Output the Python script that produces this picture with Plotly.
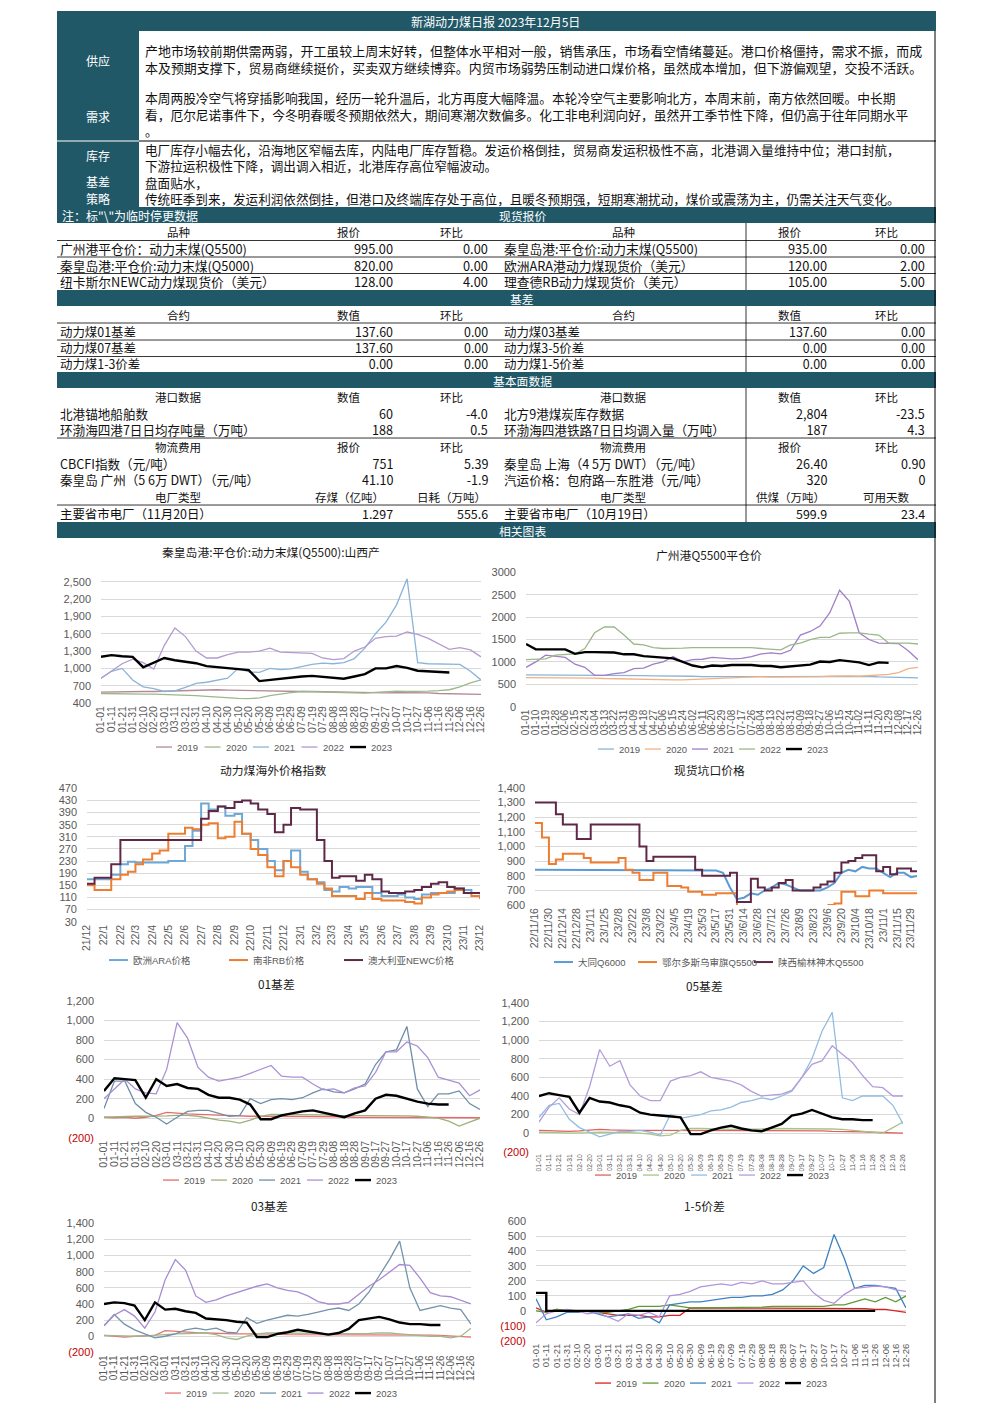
import pandas as pd
import plotly.graph_objects as go

# page geometry: the snapshot frames the page with a ~6px border, so
# positions read off the reference are mapped back onto the page
W, H = 992, 1403
PAD, SX, SY = 6.0, 0.9879, 0.9914
TEAL = "#215868"
CJK = "Noto Sans CJK SC"
LAT = "Liberation Sans, Noto Sans CJK SC"
GREY = "#595959"

# ---------------- text / table content ----------------
REPORT_TITLE = "新湖动力煤日报 2023年12月5日"
VIEW_LABELS = ["供应", "需求", "库存", "基差", "策略"]
SUPPLY_LINES = [
    "产地市场较前期供需两弱，开工虽较上周末好转，但整体水平相对一般，销售承压，市场看空情绪蔓延。港口价格僵持，需求不振，而成",
    "本及预期支撑下，贸易商继续挺价，买卖双方继续博弈。内贸市场弱势压制动进口煤价格，虽然成本增加，但下游偏观望，交投不活跃。",
]
DEMAND_LINES = [
    "本周两股冷空气将穿插影响我国，经历一轮升温后，北方再度大幅降温。本轮冷空气主要影响北方，本周末前，南方依然回暖。中长期",
    "看，厄尔尼诺事件下，今冬明春暖冬预期依然大，期间寒潮次数偏多。化工非电利润向好，虽然开工季节性下降，但仍高于往年同期水平",
    "。",
]
STOCK_LINES = [
    "电厂库存小幅去化，沿海地区窄幅去库，内陆电厂库存暂稳。发运价格倒挂，贸易商发运积极性不高，北港调入量维持中位；港口封航，",
    "下游拉运积极性下降，调出调入相近，北港库存高位窄幅波动。",
    "盘面贴水，",
    "传统旺季到来，发运利润依然倒挂，但港口及终端库存处于高位，且暖冬预期强，短期寒潮扰动，煤价或震荡为主，仍需关注天气变化。",
]
NOTE_TEXT = '注：标"\\"为临时停更数据'
SECTION_NAMES = ["现货报价", "基差", "基本面数据", "相关图表"]

SPOT_HEAD = ["品种", "报价", "环比"]
SPOT_L = [["广州港平仓价：动力末煤(Q5500)", "995.00", "0.00"],
          ["秦皇岛港:平仓价:动力末煤(Q5000)", "820.00", "0.00"],
          ["纽卡斯尔NEWC动力煤现货价（美元）", "128.00", "4.00"]]
SPOT_R = [["秦皇岛港:平仓价:动力末煤(Q5500)", "935.00", "0.00"],
          ["欧洲ARA港动力煤现货价（美元）", "120.00", "2.00"],
          ["理查德RB动力煤现货价（美元）", "105.00", "5.00"]]
BASIS_HEAD = ["合约", "数值", "环比"]
BASIS_L = [["动力煤01基差", "137.60", "0.00"],
           ["动力煤07基差", "137.60", "0.00"],
           ["动力煤1-3价差", "0.00", "0.00"]]
BASIS_R = [["动力煤03基差", "137.60", "0.00"],
           ["动力煤3-5价差", "0.00", "0.00"],
           ["动力煤1-5价差", "0.00", "0.00"]]
PORT_HEAD = ["港口数据", "数值", "环比"]
PORT_L = [["北港锚地船舶数", "60", "-4.0"],
          ["环渤海四港7日日均存吨量（万吨）", "188", "0.5"]]
PORT_R = [["北方9港煤炭库存数据", "2,804", "-23.5"],
          ["环渤海四港铁路7日日均调入量（万吨）", "187", "4.3"]]
FREIGHT_HEAD = ["物流费用", "报价", "环比"]
FREIGHT_L = [["CBCFI指数（元/吨）", "751", "5.39"],
             ["秦皇岛 广州（5 6万 DWT）（元/吨）", "41.10", "-1.9"]]
FREIGHT_R = [["秦皇岛 上海（4 5万 DWT）（元/吨）", "26.40", "0.90"],
             ["汽运价格：包府路—东胜港（元/吨）", "320", "0"]]
PLANT_HEAD_L = ["电厂类型", "存煤（亿吨）", "日耗（万吨）"]
PLANT_HEAD_R = ["电厂类型", "供煤（万吨）", "可用天数"]
PLANT_L = [["主要省市电厂（11月20日）", "1.297", "555.6"]]
PLANT_R = [["主要省市电厂（10月19日）", "599.9", "23.4"]]

# ---------------- chart data ----------------
DAY10 = pd.date_range("2020-01-01", periods=37, freq="10D").strftime("%m-%d").tolist()
DAY9 = pd.date_range("2020-01-01", periods=41, freq="9D").strftime("%m-%d").tolist()
YEARS = ["2019", "2020", "2021", "2022", "2023"]

QHD_2019 = [590, 595, 600, 600, 600, 600, 605, 610, 615, 620, 630, 630, 625, 620, 620, 620, 615, 610, 605,
            600, 600, 595, 590, 585, 580, 575, 570, 575, 580, 580, 580, 575, 565, 560, 555, 550, 550]
QHD_2020 = [565, 560, 560, 555, 555, 555, 550, 545, 540, 530, 515, 500, 490, 480, 475, 490, 530, 560, 580,
            600, 595, 585, 575, 570, 565, 570, 585, 600, 605, 600, 600, 605, 615, 630, 680, 750, 800]
QHD_2021 = [830, 950, 1000, 800, 680, 650, 600, 610, 670, 740, 760, 800, 830, 1000, 940, 930, 1000, 980, 990,
            1030, 1070, 1090, 1080, 1100, 1170, 1350, 1600, 1800, 2100, 2550, 1100, 1080, 1080, 1080, 1070, 950, 800]
QHD_2022 = [830, 950, 1080, 1160, 1100, 990, 1400, 1700, 1550, 1300, 1180, 1180, 1240, 1280, 1280, 1300, 1350,
            1280, 1270, 1260, 1260, 1180, 1150, 1170, 1300, 1370, 1520, 1550, 1560, 1630, 1590, 1520, 1430,
            1330, 1360, 1320, 1200]
QHD_2023 = [1200, 1230, 1210, 1200, 1020, 1100, 1180, 1140, 1120, 1090, 1040, 1020, 1010, 990, 970, 780, 800,
            820, 850, 860, 870, 850, 830, 820, 860, 900, 1000, 1000, 1040, 1010, 960, 950, 950, 930,
            None, None, None]

GZ_2019 = [710, 710, 710, 710, 710, 705, 700, 700, 700, 700, 700, 700, 695, 690, 690, 690, 690, 680, 670, 670,
           670, 670, 670, 670, 670, 670, 670, 670, 670, 680, 680, 680, 685, 685, 680, 675, 665, 660, 655, 650, 645]
GZ_2020 = [650, 650, 650, 650, 650, 650, 645, 640, 630, 625, 620, 610, 600, 600, 600, 600, 600, 610, 620, 630,
           640, 650, 660, 670, 670, 660, 660, 660, 660, 660, 670, 680, 690, 690, 680, 690, 700, 720, 760, 850, 880]
GZ_2021 = [880, 1000, 1150, 1120, 1100, 950, 880, 700, 700, 740, 760, 850, 860, 950, 1000, 1120, 1000, 1050,
           1060, 1100, 1080, 1070, 1080, 1120, 1180, 1200, 1180, 1260, 1600, 1680, 1800, 2100, 2600, 2350,
           1650, 1500, 1420, 1420, 1410, 1250, 1050]
GZ_2022 = [1050, 1060, 1070, 1150, 1170, 1180, 1300, 1650, 1780, 1780, 1600, 1400, 1380, 1320, 1300, 1300,
           1310, 1320, 1320, 1320, 1320, 1320, 1320, 1320, 1300, 1290, 1270, 1380, 1420, 1500, 1550, 1550,
           1640, 1650, 1650, 1620, 1600, 1420, 1420, 1420, 1400]
GZ_2023 = [1400, 1280, 1280, 1280, 1280, 1180, 1220, 1220, 1220, 1210, 1170, 1170, 1130, 1110, 1100, 1080,
           1000, 920, 880, 920, 910, 930, 930, 930, 910, 910, 880, 900, 920, 940, 1010, 1000, 1040, 1010, 990,
           930, 990, 980, None, None, None]

OVERSEAS_DATES = pd.date_range("2021-12-01", "2023-12-01", freq="SMS")
ARA = [170, 170, 170, 185, 220, 228, 225, 225, 225, 225, 230, 230, 280, 330, 420, 400, 410, 380, 385, 320,
       300, 270, 230, 200, 230, 265, 195, 170, 160, 135, 130, 145, 140, 145, 145, 125, 115, 115, 120, 110,
       105, 120, 125, 125, 125, 140, 135, 125, 120]
RB = [150, 135, 135, 170, 185, 195, 220, 235, 255, 265, 320, 320, 340, 335, 350, 355, 305, 310, 360, 320,
      270, 250, 210, 180, 230, 210, 185, 170, 155, 140, 115, 115, 115, 105, 125, 105, 100, 100, 100, 95,
      90, 110, 120, 125, 130, 135, 125, 115, 105]
NEWC = [155, 175, 175, 220, 300, 300, 300, 300, 300, 300, 300, 300, 300, 300, 370, 395, 410, 405, 425, 430,
        420, 400, 385, 325, 350, 405, 400, 400, 300, 230, 175, 180, 180, 165, 185, 170, 130, 125, 125, 130,
        135, 145, 155, 160, 145, 140, 125, 125, 128]

PIT_DATES = pd.date_range("2022-11-16", periods=56, freq="7D")
DATONG = [840, 840, 840, 840, 840, 840, 840, 840, 840, 840, 840, 840, 840, 840, 840, 840, 840, 840, 840, 840,
          840, 840, 840, 840, 840, 840, 835, 820, 720, 640, 650, 680, 670, 700, 720, 750, 740, 720, 700, 700,
          700, 700, 720, 750, 820, 840, 830, 860, 850, 850, 820, 790, 820, 820, 790, 800]
ORDOS = [1160, 1060, 880, 910, 950, 950, 950, 920, 890, 890, 890, 890, 920, 840, 820, 770, 770, 820, 820, 730,
         730, 720, 690, 690, 670, 670, 680, 680, 680, 600, None, None, None, None, None, None, None, None,
         None, None, None, None, 600, 610, 690, 690, 660, 660, 700, 700, 680, 680, 680, 680, 680, 650]
SHAANXI = [1300, 1300, 1300, 1220, 1150, 1150, 1050, 1050, 1150, 1150, 1150, 1150, 1150, 1150, 1150, 1000,
           900, 930, 930, 930, 930, 930, 930, 840, 800, 800, 800, 800, 820, 620, 620, 780, 720, 700, 720,
           750, 770, 700, 700, 700, 720, 740, 760, 820, 890, 900, 920, 940, 940, 830, 860, 810, 850, 850,
           830, 830]

B01_2019 = [10, 5, 10, 0, 10, 30, 60, 50, 45, 40, 35, 30, 25, 20, 20, 20, 20, 20, 20, 20, 20, 15, 15, 15, 10,
            10, 10, 10, 10, 10, 10, 10, 10, 10, 5, 5, 5]
B01_2020 = [10, 15, 20, 20, 20, 20, 25, 30, 30, 20, 0, -20, -30, -50, -20, 20, 40, 40, 40, 40, 40, 35, 30, 30,
            30, 30, 30, 30, 30, 25, 20, 10, 0, -30, -80, -40, 0]
B01_2021 = [100, 380, 380, 150, 60, 10, -60, 10, 70, 80, 80, 50, 20, 30, 200, 150, 190, 200, 190, 210, 260,
            300, 270, 260, 300, 350, 550, 680, 700, 940, 300, 120, 250, 250, 280, 150, 90]
B01_2022 = [200, 300, 400, 300, 260, 250, 500, 980, 820, 520, 420, 380, 400, 420, 460, 500, 540, 430, 420, 420,
            350, 290, 300, 260, 310, 330, 470, 680, 680, 780, 740, 620, 420, 390, 360, 230, 290]
B01_2023 = [280, 410, 400, 390, 210, 400, 330, 350, 310, 300, 240, 210, 210, 190, 140, -10, -10, 30, 50, 70,
            80, 55, 30, 10, 50, 80, 200, 240, 230, 200, 170, 150, 140, 140, None, None, None]

B05_2019 = [30, 25, 20, 20, 25, 30, 40, 35, 30, 30, 30, 30, 30, 30, 30, 30, 30, 30, 30, 30, 30, 30, 30, 30,
            30, 30, 25, 25, 25, 20, 20, 15, 15, 10, 5, 0, 0]
B05_2020 = [10, 10, 5, 0, 0, 5, 10, 10, 5, 5, 0, -10, -30, -20, 30, 50, 50, 50, 45, 40, 40, 40, 45, 50, 50,
            50, 50, 50, 50, 45, 40, 30, 20, 10, 0, 60, 120]
B05_2021 = [170, 300, 320, 150, 60, 10, -40, -10, 20, 20, 30, 10, -20, 200, 160, 180, 200, 240, 250, 280, 330,
            350, 380, 360, 400, 450, 600, 800, 1100, 1300, 380, 350, 400, 400, 400, 300, 100]
B05_2022 = [120, 280, 380, 260, 200, 500, 900, 720, 780, 520, 400, 350, 350, 560, 600, 620, 660, 600, 580, 560,
            520, 450, 400, 410, 420, 460, 600, 740, 780, 940, 850, 760, 620, 500, 490, 400, 400]
B05_2023 = [400, 430, 410, 390, 220, 380, 340, 330, 300, 280, 220, 200, 190, 180, 170, -10, -10, 30, 60, 80,
            50, 30, 20, 60, 100, 190, 210, 250, 210, 170, 150, 150, 140, 140, None, None, None]

B03_2019 = [10, 0, -10, 0, 5, 10, 70, 60, 50, 45, 40, 35, 30, 30, 30, 30, 25, 25, 20, 20, 20, 20, 20, 20, 20,
            20, 20, 20, 20, 20, 20, 15, 15, 10, 5, 0, -10]
B03_2020 = [10, 5, 5, 0, 5, 10, 20, 30, 35, 40, 40, 20, -20, -40, 0, 30, 40, 40, 40, 40, 40, 35, 30, 30, 30,
            30, 35, 40, 40, 30, 20, 10, 0, 0, -20, 0, 100]
B03_2021 = [130, 270, 150, 80, 30, -20, 0, 30, 80, 100, 80, 100, 50, 40, 230, 160, 200, 230, 260, 250, 270,
            300, 330, 350, 320, 400, 550, 750, 950, 1180, 600, 320, 350, 380, 350, 330, 150]
B03_2022 = [130, 260, 330, 250, 100, 300, 700, 950, 820, 500, 420, 450, 500, 540, 580, 620, 650, 600, 570, 550,
            500, 430, 400, 400, 420, 520, 620, 700, 790, 890, 880, 720, 540, 500, 490, 440, 400]
B03_2023 = [400, 420, 410, 380, 200, 420, 330, 340, 310, 290, 220, 210, 200, 180, 170, -10, -10, 30, 50, 80,
            60, 40, 20, 40, 90, 200, 220, 240, 210, 170, 150, 150, 140, 140, None, None, None]

S15_2019 = [20, -10, 10, 0, -10, 0, -10, -20, -30, -30, -30, -40, -40, -30, -30, 20, 20, 15, 15, 15, 15, 15,
            15, 15, 15, 15, 15, 15, 15, 15, 15, 15, 15, 10, 10, 0, -10]
S15_2020 = [0, -10, 10, 5, 0, 0, -10, -10, 0, 10, 30, 30, 30, 40, 30, 20, 20, 20, 20, 20, 25, 25, 25, 30, 30,
            30, 30, 30, 30, 40, 40, 60, 80, 60, 90, 60, 100]
S15_2021 = [80, -60, -40, -10, -10, 0, -20, -40, -30, -20, -50, -40, -80, 40, 50, 60, 60, 70, 80, 90, 90, 100,
            100, 110, 140, 200, 300, 250, 290, 510, 350, 150, 170, 170, 160, 150, 20]
S15_2022 = [-80, -20, 0, 10, 0, -20, -10, -40, -70, -20, -30, -10, -40, 100, 110, 130, 160, 170, 180, 170, 190,
            180, 200, 180, 180, 190, 200, 120, 70, 50, 110, 150, 160, 165, 160, 140, 130]
S15_2023 = [120, 0, 0, 0, 0, 0, 0, 0, 0, 0, 0, 0, 0, 0, 0, 0, 0, 0, 0, 0, 0, 0, 0, 0, 0, 0, 0, 0, 0, 0, 0, 0,
            0, 0, None, None, None]

B01_TICKS = [-200, 0, 200, 400, 600, 800, 1000, 1200]
B05_TICKS = [-200, 0, 200, 400, 600, 800, 1000, 1200, 1400]
S15_TICKS = [-200, -100, 0, 100, 200, 300, 400, 500, 600]

# ---------------- drawing helpers ----------------
fig = go.Figure()
shapes, annos, axes = [], [], {}


def fx(x):
    return (x - PAD) / SX / W


def fy(y):
    return 1 - (y - PAD) / SY / H


def box(x0, y0, x1, y1, color):
    shapes.append(dict(type="rect", xref="paper", yref="paper", x0=fx(x0), x1=fx(x1),
                       y0=fy(y1), y1=fy(y0), fillcolor=color, line_width=0, layer="below"))


def seg(x0, y0, x1, y1, color="#000000", width=0.8):
    shapes.append(dict(type="line", xref="paper", yref="paper", x0=fx(x0), x1=fx(x1),
                       y0=fy(y0), y1=fy(y1), line=dict(color=color, width=width)))


def label(x, y, s, size=12, color="#111111", anchor="left", family=CJK):
    annos.append(dict(xref="paper", yref="paper", x=fx(x), y=fy(y), text=s, showarrow=False,
                      xanchor=anchor, yanchor="middle", align=anchor if anchor != "center" else "center",
                      borderpad=0, font=dict(family=family, size=size, color=color)))


def block(x, y_first, step, lines, anchor="left", color="#111111"):
    # one multi-line annotation; plotly spaces lines at 1.3 x font size
    size = step / 1.3 * SY
    y_mid = y_first + step * (len(lines) - 1) / 2
    label(x, y_mid, "<br>".join(lines), size, color, anchor)


def table_head(cells, y, side):
    xs = (177, 348, 450) if side == "L" else (622, 789, 885)
    for c, x in zip(cells, xs):
        label(x, y, c, 11.5, anchor="center")


def table_rows(rows, y_first, step, side):
    lx, ax, bx = (58, 393, 488) if side == "L" else (502, 827, 925)
    block(lx, y_first, step, [r[0] for r in rows], "left")
    block(ax, y_first, step, [r[1] for r in rows], "right")
    block(bx, y_first, step, [r[2] for r in rows], "right")


def paren_ticks(vals):
    out = []
    for v in vals:
        if v < 0:
            out.append('<span style="color:#c00000">(%d)</span>' % abs(v))
        else:
            out.append(f"{v:,}")
    return out


def chart(k, area, yrange, yextra, xextra, title, title_xy, series, legend_x, legend_y,
          leg_len=16, xfont=10.5):
    sfx = "" if k == 1 else str(k)
    x0, x1, ytop, ybot = area
    for name, xs, ys, color, width, shape in series:
        fig.add_trace(go.Scatter(x=xs, y=ys, name=name, mode="lines", xaxis="x" + sfx, yaxis="y" + sfx,
                                 line=dict(color=color, width=width, shape=shape), connectgaps=False,
                                 showlegend=False))
    axes["xaxis" + sfx] = dict(domain=[fx(x0), fx(x1)], anchor="y" + sfx, showgrid=False, zeroline=False,
                               showline=False, ticks="", tickangle=-90,
                               tickfont=dict(family=LAT, size=xfont, color=GREY), **xextra)
    axes["yaxis" + sfx] = dict(domain=[fy(ybot), fy(ytop)], anchor="x" + sfx, range=yrange, showgrid=True,
                               gridcolor="#d9d9d9", gridwidth=1, zeroline=False, showline=False, ticks="",
                               ticklabelstandoff=9, tickfont=dict(family=LAT, size=11, color=GREY), **yextra)
    label(title_xy[0], title_xy[1], title, 11.8, "#1a1a1a", "center")
    for (name, _, _, color, width, _), lx in zip(series, legend_x):
        seg(lx, legend_y, lx + leg_len, legend_y, color, width)
        label(lx + leg_len + 4, legend_y, name, 9.5, GREY, "left", LAT)


def years(xs, data, colors):
    out = []
    for name, ys, c in zip(YEARS, data, colors):
        out.append((name, xs, ys, c, 2.4 if name == "2023" else 1.3, "linear"))
    return out


# ---------------- report header & text block ----------------
box(56, 11, 935, 31, TEAL)
label(494, 21.5, REPORT_TITLE, 12, "white", "center")
box(56, 31, 138, 207, TEAL)
seg(56, 141, 138, 141, "#ffffff", 1)
seg(138, 141, 935, 141, "#000000", 1)
seg(934, 31, 934, 1403, "#000000", 1)
for lab, y in zip(VIEW_LABELS, [60, 116, 155, 181, 198]):
    label(97, y, lab, 12, "white", "center")
block(143, 50, 17, SUPPLY_LINES)
block(143, 97, 16.7, DEMAND_LINES)
block(143, 149, 16.5, STOCK_LINES)

# ---------------- section bars ----------------
for (y0, y1) in [(207, 223), (290, 306), (372, 388), (522, 538)]:
    box(56, y0, 935, y1, TEAL)
label(60, 215.5, NOTE_TEXT, 12, "white")
for name, y in zip(SECTION_NAMES, [215.5, 298, 380.5, 530]):
    label(521, y, name, 11.8, "white", "center")

# ---------------- tables ----------------
for y in [240.5, 257, 273.5, 323, 340, 356.5, 438, 505]:
    seg(56, y, 935, y, "#000000", 0.8)
for (y0, y1) in [(223, 290), (306, 372), (388, 522)]:
    seg(745, y0, 745, y1, "#000000", 0.8)

table_head(SPOT_HEAD, 231.5, "L")
table_head(SPOT_HEAD, 231.5, "R")
table_rows(SPOT_L, 248.5, 16.75, "L")
table_rows(SPOT_R, 248.5, 16.75, "R")
table_head(BASIS_HEAD, 314.5, "L")
table_head(BASIS_HEAD, 314.5, "R")
table_rows(BASIS_L, 331.5, 16.3, "L")
table_rows(BASIS_R, 331.5, 16.3, "R")
table_head(PORT_HEAD, 396.5, "L")
table_head(PORT_HEAD, 396.5, "R")
table_rows(PORT_L, 413.5, 16.5, "L")
table_rows(PORT_R, 413.5, 16.5, "R")
table_head(FREIGHT_HEAD, 446.8, "L")
table_head(FREIGHT_HEAD, 446.8, "R")
table_rows(FREIGHT_L, 463.5, 16.5, "L")
table_rows(FREIGHT_R, 463.5, 16.5, "R")
table_head(PLANT_HEAD_L, 497, "L")
table_head(PLANT_HEAD_R, 497, "R")
table_rows(PLANT_L, 513.5, 16.3, "L")
table_rows(PLANT_R, 513.5, 16.3, "R")

# ---------------- charts ----------------
cat10 = dict(type="category", range=[0, 36], tickmode="array", tickvals=DAY10, ticktext=DAY10)
cat9 = dict(type="category", range=[0, 40], tickmode="array", tickvals=DAY9, ticktext=DAY9)

chart(1, (100, 480, 574.8, 703), [400, 2620], dict(tick0=400, dtick=300, tickformat=","), cat10,
      "秦皇岛港:平仓价:动力末煤(Q5500):山西产", (270, 551),
      years(DAY10, [QHD_2019, QHD_2020, QHD_2021, QHD_2022, QHD_2023],
            ["#b48a94", "#9cb88a", "#8ab4d8", "#b39ad0", "#000000"]),
      [155 + 48.5 * i for i in range(5)], 747)

chart(2, (525, 917, 572.3, 706.7), [0, 3000], dict(tick0=0, dtick=500, tickformat="d"), cat9,
      "广州港Q5500平仓价", (708, 554),
      years(DAY9, [GZ_2019, GZ_2020, GZ_2021, GZ_2022, GZ_2023],
            ["#8ab4d8", "#f2b183", "#9f7fc6", "#9cb88a", "#000000"]),
      [597 + 47 * i for i in range(5)], 749, xfont=10)

chart(3, (86, 479, 788.3, 921.7), [30, 470], dict(tick0=30, dtick=40),
      dict(type="date", range=["2021-12-01", "2023-12-01"], tick0="2021-12-01", dtick="M1",
           tickformat="%y/%-m"),
      "动力煤海外价格指数", (272, 769),
      [("欧洲ARA价格", OVERSEAS_DATES, ARA, "#6fa8d6", 2, "hv"),
       ("南非RB价格", OVERSEAS_DATES, RB, "#ed7d31", 2, "hv"),
       ("澳大利亚NEWC价格", OVERSEAS_DATES, NEWC, "#5f2846", 2, "hv")],
      [108, 228, 343], 960, leg_len=19)

chart(4, (534, 916, 787.7, 905), [600, 1400], dict(tick0=600, dtick=100, tickformat=","),
      dict(type="date", range=["2022-11-16", "2023-12-05"], tick0="2022-11-16", dtick=14 * 86400000,
           tickformat="%y/%-m/%-d"),
      "现货坑口价格", (708, 769),
      [("大同Q6000", PIT_DATES, DATONG, "#5b9bd5", 2, "linear"),
       ("鄂尔多斯乌审旗Q5500", PIT_DATES, ORDOS, "#ed7d31", 2, "hv"),
       ("陕西榆林神木Q5500", PIT_DATES, SHAANXI, "#5f2846", 2, "hv")],
      [553, 637, 753], 962, leg_len=19)

chart(5, (103, 479, 1001, 1137.7), [-200, 1200],
      dict(tickmode="array", tickvals=B01_TICKS, ticktext=paren_ticks(B01_TICKS)), cat10,
      "01基差", (275, 983),
      years(DAY10, [B01_2019, B01_2020, B01_2021, B01_2022, B01_2023],
            ["#e46c6c", "#9cb07c", "#6f8ea8", "#a992d4", "#000000"]),
      [162 + 48 * i for i in range(5)], 1180)

chart(6, (538, 902, 1003, 1151.7), [-200, 1400],
      dict(tickmode="array", tickvals=B05_TICKS, ticktext=paren_ticks(B05_TICKS)), cat10,
      "05基差", (703, 985),
      years(DAY10, [B05_2019, B05_2020, B05_2021, B05_2022, B05_2023],
            ["#e06060", "#a8c488", "#92bde0", "#b49ddb", "#000000"]),
      [594 + 48 * i for i in range(5)], 1175, xfont=6.8)

chart(7, (103, 470, 1223.3, 1352.3), [-200, 1400],
      dict(tickmode="array", tickvals=B05_TICKS, ticktext=paren_ticks(B05_TICKS)), cat10,
      "03基差", (268, 1205),
      years(DAY10, [B03_2019, B03_2020, B03_2021, B03_2022, B03_2023],
            ["#e57373", "#a3b88a", "#7393ab", "#a78cd2", "#000000"]),
      [164 + 47.5 * i for i in range(5)], 1393, xfont=10)

s15 = years(DAY10, [S15_2019, S15_2020, S15_2021, S15_2022, S15_2023],
            ["#e02020", "#5f9a35", "#3f82c0", "#b394dc", "#000000"])
s15[-1] = ("2023", DAY10, S15_2023, "#000000", 2.4, "hv")
chart(8, (535, 905, 1221, 1340.7), [-200, 600],
      dict(tickmode="array", tickvals=S15_TICKS, ticktext=paren_ticks(S15_TICKS)), cat10,
      "1-5价差", (703, 1205), s15,
      [594 + 47.5 * i for i in range(5)], 1383, xfont=9.5)

fig.update_layout(
    width=W, height=H,
    margin=dict(l=0, r=0, t=0, b=0),
    paper_bgcolor="white", plot_bgcolor="white",
    showlegend=False,
    font=dict(family=CJK, color="#111111"),
    shapes=shapes, annotations=annos,
    **axes,
)

fig.write_html(
    "out.html",
    config={"displayModeBar": False},
    post_script="document.body.style.margin='0';document.body.style.padding='0';"
                "document.documentElement.style.overflow='hidden';",
)
